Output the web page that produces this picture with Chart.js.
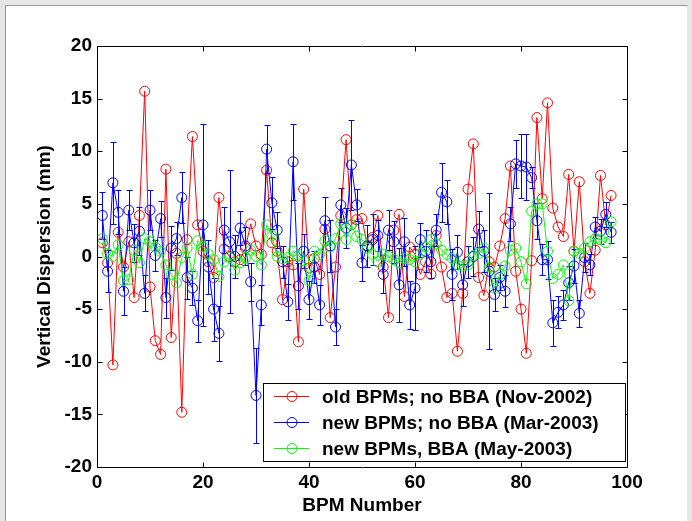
<!DOCTYPE html>
<html>
<head>
<meta charset="utf-8">
<script src="https://cdn.jsdelivr.net/npm/chart.js@4.4.0/dist/chart.umd.min.js"></script>
<style>
  html, body { margin: 0; padding: 0; }
  body { width: 692px; height: 521px; background: #e6e6e6; position: relative; overflow: hidden; }
  #frame { position: absolute; left: 5px; top: 5px; width: 681px; height: 516px; background: #fff;
           border-top: 1px solid #9a9a9a; border-left: 1px solid #9a9a9a; }
  #myChart { position: absolute; left: 0; top: 0; }
</style>
</head>
<body>
<div id="frame"></div>
<canvas id="myChart" width="692" height="521"></canvas>
<script>
// BPM index along the ring
var bpmNumbers = [
  1, 2, 3, 4, 5, 6, 7, 8, 9, 10, 11, 12, 13, 14, 15, 16, 17, 18, 19, 20,
  21, 22, 23, 24, 25, 26, 27, 28, 29, 30, 31, 32, 33, 34, 35, 36, 37, 38, 39, 40,
  41, 42, 43, 44, 45, 46, 47, 48, 49, 50, 51, 52, 53, 54, 55, 56, 57, 58, 59, 60,
  61, 62, 63, 64, 65, 66, 67, 68, 69, 70, 71, 72, 73, 74, 75, 76, 77, 78, 79, 80,
  81, 82, 83, 84, 85, 86, 87, 88, 89, 90, 91, 92, 93, 94, 95, 96, 97
];

// old BPMs; no BBA (Nov-2002)
var oldNoBba = [
  1.3, -0.6, -10.3, 2.3, -1.0, 1.4, -3.9, 3.9, 15.7, -2.9,
  -8.0, -9.3, 8.3, -7.7, 0.3, -14.8, 1.6, 11.4, 3.0, 0.5,
  -0.5, -2.0, 5.6, 0.7, 0.0, -0.5, -0.3, 0.8, 3.1, 1.0,
  0.2, 8.2, 1.3, 0.5, -4.1, -0.5, -0.8, -8.1, 6.4, -1.1,
  -0.2, -1.7, 2.6, -5.8, -1.0, 3.9, 11.1, 3.0, 3.5, 3.6,
  1.0, 1.8, 3.9, -1.0, -5.8, 2.5, 4.0, -3.8, 0.9, 0.2,
  -1.7, -0.5, -1.7, 2.0, -1.0, -3.9, -3.5, -9.0, -3.5, 6.4,
  10.7, -2.0, -3.7, -0.5, -1.0, 1.0, 3.6, 8.6, -1.4, -5.0,
  -9.2, -0.4, 13.2, 5.5, 14.6, 4.6, 2.8, 1.9, 7.8, 0.5,
  7.1, -0.5, -3.5, 0.6, 7.7, 3.0, 5.8
];

// new BPMs; no BBA (Mar-2003)
var newNoBba = [
  3.9, -1.4, 7.0, 4.2, -3.3, 4.4, 1.3, 2.4, -3.5, 4.4,
  0.1, 3.6, -3.9, 0.8, 1.7, 5.6, -2.0, -3.0, -6.1, 3.0,
  -1.0, -5.0, -7.3, 2.5, 1.4, 0.0, 2.7, 1.0, -2.4, -13.2,
  -4.6, 10.2, 5.1, 2.5, -0.5, -4.3, 9.0, -2.8, 0.5, -4.1,
  -1.0, -4.6, 3.4, 1.0, -6.7, 4.9, 2.7, 8.7, 4.9, -0.6,
  1.0, 1.6, 2.0, -1.7, 2.5, 1.4, -2.7, 1.4, -4.6, -3.0,
  1.6, 0.5, -0.5, 2.5, 6.1, 5.2, -1.7, 0.4, -2.7, -0.5,
  0.0, 2.6, 0.5, -1.4, -3.6, -2.0, -3.3, 3.1, 8.8, 8.6,
  8.5, 7.5, 3.4, -0.3, -0.3, -6.3, -5.3, -4.6, -2.5, -0.9,
  -5.4, -0.1, -0.8, 2.8, 2.4, 4.0, 2.3
];

// error bar half-lengths for the Mar-2003 set
var newNoBbaErr = [
  2.2, 2.0, 3.9, 2.1, 2.3, 1.9, 1.8, 2.3, 1.7, 1.9,
  1.5, 1.7, 1.9, 2.1, 1.6, 2.4, 2.0, 1.6, 2.0, 9.6,
  2.6, 3.0, 2.6, 2.2, 6.8, 2.0, 1.6, 1.8, 1.8, 4.5,
  1.9, 2.3, 2.5, 1.7, 1.5, 1.7, 3.6, 2.2, 1.6, 1.8,
  1.5, 1.9, 2.3, 2.5, 1.7, 1.6, 1.9, 4.3, 1.5, 1.7,
  2.0, 2.4, 1.5, 1.8, 1.9, 2.0, 3.5, 2.3, 2.3, 4.0,
  1.6, 2.0, 1.5, 1.5, 2.8, 2.1, 2.4, 1.6, 2.0, 1.5,
  1.9, 1.7, 2.0, 7.4, 1.6, 1.2, 1.5, 1.6, 2.3, 3.0,
  3.1, 1.0, 1.7, 1.5, 1.8, 2.2, 1.5, 1.4, 1.6, 1.6,
  1.3, 1.4, 1.0, 1.0, 1.2, 1.2, 1.0
];

// new BPMs, BBA (May-2003)
var newBba = [
  1.7, 0.3, 0.0, 1.1, -2.3, -2.2, 0.6, -0.6, 1.7, 1.4,
  0.9, 0.5, -0.8, -1.7, -2.5, -0.1, 0.8, -1.7, 1.5, 0.9,
  0.2, -0.3, -1.9, -0.5, -0.1, -1.3, -0.6, -0.1, 0.6, 0.0,
  -0.8, 3.0, 2.0, 0.0, -0.2, -0.1, 0.5, 0.1, -0.4, -2.3,
  0.5, 0.2, 1.5, 0.9, 1.7, 3.1, 1.6, 3.0, 1.9, 1.6,
  0.8, 0.2, -0.5, 0.2, 0.0, -0.3, -0.6, -0.2, -0.3, -0.5,
  0.3, 0.9, 1.6, 1.2, 0.6, 0.2, -0.2, -0.8, -0.9, -0.8,
  0.1, 0.3, 0.8, -1.0, -3.0, -1.7, -0.9, 0.6, 0.8, -0.5,
  -2.6, 4.3, 5.0, 5.0, 0.5, -2.1, -1.7, -0.8, -4.2, 0.5,
  0.3, 0.8, 1.4, 1.7, 1.6, 1.3, 3.3
];

var xTicks = [0, 20, 40, 60, 80, 100];
var yTicks = [-20, -15, -10, -5, 0, 5, 10, 15, 20];

var fontFamily = '"Liberation Sans", Arial, Helvetica, sans-serif';
var fontSize = 19;

function toPoints(values) {
  return values.map(function (v, i) { return { x: bpmNumbers[i], y: v }; });
}

// draws vertical error bars right after the owning dataset
var errorBarPlugin = {
  id: 'errorBars',
  afterDatasetDraw: function (chart, args) {
    var ds = chart.data.datasets[args.index];
    if (!ds.errors) return;
    var ctx = chart.ctx;
    var xs = chart.scales.x, ys = chart.scales.y;
    var area = chart.chartArea;
    ctx.save();
    ctx.beginPath();
    ctx.rect(area.left, area.top, area.right - area.left, area.bottom - area.top);
    ctx.clip();
    ctx.strokeStyle = ds.borderColor;
    ctx.lineWidth = 1;
    ctx.beginPath();
    ds.data.forEach(function (p, i) {
      var px = Math.round(xs.getPixelForValue(p.x)) + 0.5;
      var top = Math.round(ys.getPixelForValue(p.y + ds.errors[i])) + 0.5;
      var bot = Math.round(ys.getPixelForValue(p.y - ds.errors[i])) + 0.5;
      ctx.moveTo(px, top); ctx.lineTo(px, bot);
      ctx.moveTo(px - 3, top); ctx.lineTo(px + 3, top);
      ctx.moveTo(px - 3, bot); ctx.lineTo(px + 3, bot);
    });
    ctx.stroke();
    ctx.restore();
  }
};

// box round the axes with inward tick marks on all four sides
var boxPlugin = {
  id: 'axesBox',
  afterDraw: function (chart) {
    var ctx = chart.ctx;
    var a = chart.chartArea;
    var xs = chart.scales.x, ys = chart.scales.y;
    var L = Math.round(a.left) + 0.5, R = Math.round(a.right) + 0.5;
    var T = Math.round(a.top) + 0.5, B = Math.round(a.bottom) + 0.5;
    ctx.save();
    ctx.strokeStyle = '#000';
    ctx.lineWidth = 1;
    ctx.beginPath();
    ctx.rect(L, T, R - L, B - T);
    xTicks.forEach(function (t) {
      var px = Math.round(xs.getPixelForValue(t)) + 0.5;
      ctx.moveTo(px, B); ctx.lineTo(px, B - 5);
      ctx.moveTo(px, T); ctx.lineTo(px, T + 5);
    });
    yTicks.forEach(function (t) {
      var py = Math.round(ys.getPixelForValue(t)) + 0.5;
      ctx.moveTo(L, py); ctx.lineTo(L + 5, py);
      ctx.moveTo(R, py); ctx.lineTo(R - 5, py);
    });
    ctx.stroke();
    ctx.restore();
  }
};

// MATLAB-style legend box in the lower right of the axes
var legendBoxPlugin = {
  id: 'legendBox',
  afterDraw: function (chart) {
    var ctx = chart.ctx;
    var a = chart.chartArea;
    var items = [chart.data.datasets[2], chart.data.datasets[1], chart.data.datasets[0]];
    var right = a.right - 2, bottom = a.bottom - 6;
    var w = 362, rowH = 26, h = rowH * items.length;
    var left = right - w, top = bottom - h;
    ctx.save();
    ctx.fillStyle = '#fff';
    ctx.fillRect(left, top, w, h);
    ctx.strokeStyle = '#000';
    ctx.lineWidth = 1;
    ctx.strokeRect(Math.round(left) + 0.5, Math.round(top) + 0.5, w, h);
    ctx.font = 'bold ' + fontSize + 'px ' + fontFamily;
    ctx.textBaseline = 'middle';
    ctx.textAlign = 'left';
    items.forEach(function (ds, i) {
      var cy = Math.round(top + rowH * (i + 0.5)) + 0.5;
      ctx.strokeStyle = ds.borderColor;
      ctx.beginPath();
      ctx.moveTo(left + 11, cy); ctx.lineTo(left + 46, cy);
      ctx.stroke();
      ctx.beginPath();
      ctx.arc(left + 29, cy, 5, 0, Math.PI * 2);
      ctx.stroke();
      ctx.fillStyle = '#000';
      ctx.fillText(ds.label, left + 59, cy + 1);
    });
    ctx.restore();
  }
};

var ctx = document.getElementById('myChart').getContext('2d');

function series(label, values, color, order) {
  return {
    label: label,
    data: toPoints(values),
    borderColor: color,
    backgroundColor: 'rgba(0,0,0,0)',
    borderWidth: 1,
    pointRadius: 5,
    pointHoverRadius: 5,
    pointBorderWidth: 1,
    pointBorderColor: color,
    pointBackgroundColor: 'rgba(0,0,0,0)',
    tension: 0,
    order: order
  };
}

var oldSet = series('old BPMs; no BBA (Nov-2002)', oldNoBba, '#ff0000', 3);
var newSet = series('new BPMs; no BBA (Mar-2003)', newNoBba, '#0000ff', 2);
newSet.errors = newNoBbaErr;
var bbaSet = series('new BPMs, BBA (May-2003)', newBba, '#00ff00', 1);

var axisFont = { family: fontFamily, size: fontSize, weight: 'bold' };

var myChart = new Chart(ctx, {
  type: 'line',
  data: { datasets: [bbaSet, newSet, oldSet] },
  plugins: [errorBarPlugin, boxPlugin, legendBoxPlugin],
  options: {
    responsive: false,
    animation: false,
    events: [],
    layout: { padding: { left: 30, top: 46, right: 65, bottom: 0 } },
    plugins: { legend: { display: false }, tooltip: { enabled: false } },
    scales: {
      x: {
        type: 'linear',
        min: 0, max: 100,
        afterBuildTicks: function (scale) { scale.ticks = xTicks.map(function (v) { return { value: v }; }); },
        afterFit: function (scale) { scale.height = 54; },
        grid: { display: false, drawTicks: false },
        border: { display: false },
        ticks: { color: '#000', padding: 4, maxRotation: 0, font: axisFont },
        title: { display: true, text: 'BPM Number', color: '#000', padding: { top: 2, bottom: 4 }, font: axisFont }
      },
      y: {
        min: -20, max: 20,
        afterBuildTicks: function (scale) { scale.ticks = yTicks.map(function (v) { return { value: v }; }); },
        afterFit: function (scale) { scale.width = 67; },
        grid: { display: false, drawTicks: false },
        border: { display: false },
        ticks: { color: '#000', padding: 5, font: axisFont },
        title: { display: true, text: 'Vertical Dispersion (mm)', color: '#000', padding: { top: 3, bottom: 2 }, font: axisFont }
      }
    }
  }
});
</script>
</body>
</html>
